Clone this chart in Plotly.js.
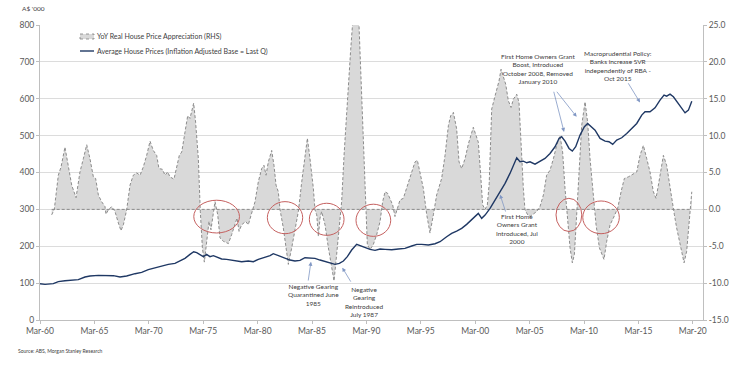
<!DOCTYPE html>
<html>
<head>
<meta charset="utf-8">
<script src="https://cdn.plot.ly/plotly-3.0.1.min.js"></script>
<style>html,body{margin:0;padding:0;background:#fff;}#chart{width:738px;height:367px;}</style>
</head>
<body>
<div id="chart"></div>
<script>
// Average house prices (A$ '000, inflation adjusted) - decimal year / value
const priceDates = [1960.17,1960.63,1961.39,1961.85,1962.46,1963.08,1963.69,1964.30,1964.76,1965.53,
  1966.29,1966.91,1967.52,1968.13,1968.90,1969.51,1970.12,1970.74,1971.35,1971.96,
  1972.57,1973.03,1973.49,1973.95,1974.29,1974.57,1974.87,1975.18,1975.48,1975.79,
  1976.10,1976.40,1976.86,1977.32,1977.78,1978.24,1978.70,1979.31,1979.77,1980.23,
  1980.85,1981.31,1981.61,1981.92,1982.22,1982.68,1983.14,1983.60,1984.06,1984.52,
  1984.98,1985.44,1985.90,1986.36,1986.82,1987.28,1987.68,1988.05,1988.41,1988.81,
  1989.27,1989.58,1990.04,1990.50,1990.96,1991.42,1991.88,1992.49,1993.10,1993.71,
  1994.33,1994.79,1995.25,1995.86,1996.47,1996.93,1997.54,1998.00,1998.46,1998.92,
  1999.38,1999.84,2000.45,2000.76,2001.07,2001.53,2001.99,2002.45,2002.91,2003.36,
  2003.67,2003.98,2004.28,2004.59,2004.90,2005.20,2005.66,2006.12,2006.58,2007.04,
  2007.50,2007.87,2008.11,2008.42,2008.79,2009.09,2009.40,2009.80,2010.20,2010.50,
  2010.81,2011.18,2011.64,2012.10,2012.46,2012.80,2013.17,2013.63,2014.09,2014.55,
  2015.01,2015.47,2015.77,2016.23,2016.69,2017.15,2017.52,2017.76,2018.07,2018.38,
  2018.74,2019.14,2019.45,2019.76,2020.07];
const priceValues = [98.5,96.7,98.5,104,106.6,107.5,109.4,116.6,119.3,121.1,
  120.2,120.2,116.6,119.3,125.6,129.2,136.5,141.9,147.3,150.9,
  153.6,160.8,167.2,178.0,185.2,182.5,176.2,171.7,178.0,171.7,
  174.4,171.7,165.4,164.5,162.6,160.8,158.1,159.9,158.1,164.5,
  169.0,174.4,179.8,176.2,172.6,169.0,162.6,159.9,161.7,169.0,
  167.2,167.2,162.6,158.1,153.6,150.9,153.6,159.9,171.7,189.7,
  205.1,201.5,196.1,191.6,188.9,192.5,191.6,190.7,192.5,194.3,
  200.6,205.1,205.1,203.3,206.9,212.3,225.9,234.9,241.2,248.4,
  259.3,271.0,289.1,275.6,284.6,302.7,325.2,347.8,370.4,397.5,
  420.1,440.0,429.1,430.9,426.4,429.1,422.8,430.9,438.2,451.7,
  469.8,492.4,496.9,485.1,465.3,458.0,469.8,501.4,524.0,533.0,
  524.0,514.9,492.4,485.1,483.3,476.1,487.9,494.2,506.0,519.5,
  533.0,555.6,564.6,564.6,575.5,596.2,609.8,607.1,612.5,605.3,
  591.7,573.7,561.9,569.1,593.5];

// YoY real house price appreciation (%, RHS)
const apprDates = [1961.24,1961.48,1961.85,1962.10,1962.46,1962.77,1963.08,1963.48,1963.84,1964.15,
  1964.46,1964.76,1965.07,1965.28,1965.53,1965.83,1966.14,1966.23,1966.45,1966.75,
  1967.06,1967.37,1967.61,1967.83,1968.13,1968.44,1968.74,1969.05,1969.36,1969.66,
  1969.97,1970.28,1970.58,1970.89,1971.10,1971.41,1971.66,1971.90,1972.11,1972.48,
  1972.73,1972.97,1973.19,1973.49,1973.74,1973.95,1974.11,1974.29,1974.47,1974.72,
  1974.90,1975.09,1975.27,1975.48,1975.70,1975.88,1976.10,1976.25,1976.50,1976.71,
  1977.02,1977.48,1977.78,1978.09,1978.27,1978.46,1978.70,1979.07,1979.31,1979.62,
  1979.93,1980.23,1980.54,1980.75,1980.94,1981.15,1981.46,1981.67,1981.86,1982.07,
  1982.23,1982.53,1982.78,1982.99,1983.30,1983.60,1983.91,1984.22,1984.52,1984.74,
  1984.98,1985.29,1985.44,1985.60,1985.75,1985.90,1986.05,1986.36,1986.67,1986.97,
  1987.19,1987.43,1987.68,1987.89,1988.11,1988.41,1988.72,1989.28,1990.13,1990.25,
  1990.50,1990.80,1991.11,1991.42,1991.66,1991.88,1992.12,1992.34,1992.58,1992.79,
  1993.01,1993.25,1993.56,1993.81,1994.02,1994.33,1994.63,1994.85,1995.09,1995.40,
  1995.71,1996.01,1996.32,1996.62,1997.08,1997.39,1997.70,1997.91,1998.16,1998.46,
  1998.68,1998.92,1999.23,1999.54,1999.99,2000.24,2000.45,2000.67,2000.85,2001.07,
  2001.28,2001.45,2001.68,2001.99,2002.35,2002.54,2002.75,2002.97,2003.21,2003.46,
  2003.67,2003.98,2004.19,2004.38,2004.59,2004.74,2004.99,2005.20,2005.51,2005.82,
  2006.12,2006.43,2006.73,2007.04,2007.35,2007.65,2007.96,2008.20,2008.42,2008.67,
  2008.88,2009.09,2009.28,2009.49,2009.71,2009.95,2010.26,2010.50,2010.72,2011.02,
  2011.27,2011.58,2011.79,2012.00,2012.25,2012.56,2012.86,2013.26,2013.57,2013.87,
  2014.24,2014.55,2015.01,2015.31,2015.62,2015.93,2016.23,2016.54,2016.78,2017.00,
  2017.21,2017.46,2017.76,2017.98,2018.22,2018.47,2018.68,2018.93,2019.14,2019.36,
  2019.60,2019.82,2020.00,2020.07];
const apprValues = [-0.74,0,4.63,5.75,8.44,6.0,3.29,1.59,5.08,6.87,
  8.76,6.87,4.41,4.19,1.95,1.05,0.38,-0.65,-0.07,0.38,
  -0.29,-1.86,-2.89,-2.09,-0.07,3.29,4.63,4.95,4.63,5.75,
  7.32,9.25,7.99,7.32,5.53,5.44,4.63,5.08,4.41,4.10,
  5.75,7.32,7.77,10.46,12.70,12.34,13.15,14.40,11.80,6.87,
  -0.29,-5.22,-7.15,-4.33,-1.64,-2.76,-0.74,1.05,-0.74,-3.88,
  -4.33,-4.64,-3.43,-1.86,-1.19,-2.98,-2.09,-1.64,-2.09,-0.52,
  1.05,3.74,5.53,5.98,4.63,6.43,7.99,5.98,3.29,2.39,
  -0.07,-2.53,-5.22,-7.46,-5.22,-2.53,-0.29,3.74,7.32,9.65,
  6.87,2.84,-0.07,-0.74,-3.65,-1.19,-0.29,-2.09,-5.22,-7.91,
  -9.70,-6.12,-2.53,1.05,7.32,14.94,21.66,33.0,0,-4.77,
  -5.45,-4.77,-3.43,-1.64,1.05,2.39,2.17,1.50,0.60,-0.97,
  0.16,1.27,1.50,2.62,3.74,5.08,6.43,6.65,5.08,2.84,
  -0.74,-3.21,-0.74,1.95,4.19,7.32,11.36,12.70,13.15,10.91,
  6.43,5.53,6.87,8.89,11.13,10.01,9.11,4.63,0.60,0,
  0.60,3.5,13.6,15.4,17.4,19.0,17.9,16.96,14.72,13.82,
  14.94,15.61,14.49,8.22,2.84,-0.07,-0.74,-0.97,-0.65,-0.29,
  0.38,1.95,4.63,5.31,6.87,8.67,10.0,7.77,2.84,-1.64,
  -5.22,-7.24,-6.12,-0.74,5.98,11.36,14.58,11.80,6.87,1.50,
  -2.09,-5.22,-5.89,-6.79,-4.33,-2.09,-1.19,0.16,2.39,4.19,
  4.41,4.72,5.08,7.32,8.67,6.87,5.08,2.39,1.50,3.29,
  5.31,7.32,5.98,3.74,1.72,-0.74,-2.53,-4.33,-6.12,-7.24,
  -5.67,-2.09,0.16,2.39];

// Axis tick labels
const xTickYears = [1960,1965,1970,1975,1980,1985,1990,1995,2000,2005,2010,2015,2020];
const xTickLabels = ['Mar-60','Mar-65','Mar-70','Mar-75','Mar-80','Mar-85','Mar-90','Mar-95','Mar-00','Mar-05','Mar-10','Mar-15','Mar-20'];
const rhsTickVals = [25,20,15,10,5,0,-5,-10,-15];
const rhsTickLabels = ['25.0','20.0','15.0','10.0','5.0','0.0','-5.0','-10.0','-15.0'];

const seriesNames = ['YoY Real House Price Appreciation (RHS)', 'Average House Prices (Inflation Adjusted Base = Last Q)'];

const MARCH = 2/12;
const FONT = 'Lato, "Open Sans", sans-serif';
const txt = '#404040';
const arrowCol = '#8097c4';

// Area on the primary axis (placed on the right), price line on the overlaying axis (left) so it draws on top
const traces = [
  {
    x: apprDates, y: apprValues, yaxis: 'y', type: 'scatter', mode: 'lines',
    name: seriesNames[0], fill: 'tozeroy', fillcolor: '#d9d9d9',
    line: {color: '#808080', width: 0.9, dash: '3px,2px'}, showlegend: false, hoverinfo: 'skip'
  },
  {
    x: [apprDates[0], apprDates[apprDates.length - 1]], y: [0, 0], yaxis: 'y', type: 'scatter', mode: 'lines',
    line: {color: '#808080', width: 0.9, dash: '3px,2px'}, showlegend: false, hoverinfo: 'skip'
  },
  {
    x: priceDates, y: priceValues, yaxis: 'y2', type: 'scatter', mode: 'lines',
    name: seriesNames[1], line: {color: '#1f3864', width: 1.4}, showlegend: false
  }
];

// pixel helpers for the plot area (l=40, t=25, w=663, h=295)
const px = v => (v - 40) / 663;
const py = v => (320 - v) / 295;

const notes = [
  {x: 1985.29, y: 68, text: 'Negative Gearing<br>Quarantined June<br>1985'},
  {x: 1989.95, y: 49, text: 'Negative<br>Gearing<br>Reintroduced<br>July 1987'},
  {x: 2004.04, y: 248, text: 'First Home<br>Owners Grant<br>Introduced, Jul<br>2000'},
  {x: 2005.97, y: 681, text: 'First Home Owners Grant<br>Boost, Introduced<br>October 2008, Removed<br>January 2010'},
  {x: 2013.32, y: 690, text: 'Macroprudential Policy:<br>Banks increase SVR<br>independently of RBA -<br>Oct 2015'}
];
const arrows = [
  {ax: 1984.80, ay: 103, x: 1985.07, y: 158},
  {ax: 1988.81, ay: 100, x: 1987.95, y: 142},
  {ax: 2003.00, ay: 290, x: 2002.45, y: 340},
  {ax: 2007.35, ay: 623, x: 2008.33, y: 510},
  {ax: 2007.56, ay: 623, x: 2009.49, y: 551},
  {ax: 2014.15, ay: 646, x: 2015.31, y: 590}
];

const annotations = [];
notes.forEach(n => annotations.push({
  x: n.x, y: n.y, xref: 'x', yref: 'y2', text: n.text, showarrow: false,
  align: 'center', xanchor: 'center', yanchor: 'middle', font: {family: FONT, size: 6.5, color: txt}
}));
arrows.forEach(a => annotations.push({
  x: a.x, y: a.y, ax: a.ax, ay: a.ay, xref: 'x', yref: 'y2', axref: 'x', ayref: 'y2',
  text: '', showarrow: true, arrowhead: 2, arrowsize: 1, arrowwidth: 0.8, arrowcolor: arrowCol
}));
// legend texts
annotations.push({x: px(95), y: py(36.5), xref: 'paper', yref: 'paper', xanchor: 'left', yanchor: 'middle',
  text: seriesNames[0], showarrow: false, font: {family: FONT, size: 7, color: txt}});
annotations.push({x: px(95), y: py(51), xref: 'paper', yref: 'paper', xanchor: 'left', yanchor: 'middle',
  text: seriesNames[1], showarrow: false, font: {family: FONT, size: 7, color: txt}});
// unit label and source
annotations.push({x: px(20), y: py(8), xref: 'paper', yref: 'paper', xanchor: 'left', yanchor: 'middle',
  text: "A$ '000", showarrow: false, font: {family: FONT, size: 6.5, color: txt}});
annotations.push({x: px(16), y: py(351), xref: 'paper', yref: 'paper', xanchor: 'left', yanchor: 'middle',
  text: 'Source: ABS, Morgan Stanley Research', showarrow: false, font: {family: FONT, size: 5, color: txt}});

const ellipse = (x0, x1, y0, y1) => ({type: 'circle', xref: 'x', yref: 'y', x0, x1, y0, y1,
  line: {color: '#c5605f', width: 1}, fillcolor: 'rgba(0,0,0,0)'});

const shapes = [
  ellipse(1974.3, 1978.5, -3.2, 1.24),
  ellipse(1981.06, 1984.31, -3.3, 1.05),
  ellipse(1984.92, 1988.11, -3.52, 0.83),
  ellipse(1989.21, 1992.40, -3.66, 0.7),
  ellipse(2007.59, 2009.96, -3.0, 1.5),
  ellipse(2010.05, 2013.41, -3.3, 1.14),
  // legend icons
  {type: 'rect', xref: 'paper', yref: 'paper', x0: px(80), x1: px(94), y0: py(39), y1: py(34),
   fillcolor: '#d9d9d9', line: {color: '#808080', width: 0.8, dash: 'dot'}},
  {type: 'line', xref: 'paper', yref: 'paper', x0: px(80), x1: px(94), y0: py(51), y1: py(51),
   line: {color: '#1f3864', width: 1.4}}
];

const axisFont = {family: FONT, size: 8.5, color: '#595959'};
const layout = {
  width: 738, height: 367,
  margin: {l: 40, r: 35, t: 25, b: 47, pad: 0},
  paper_bgcolor: '#ffffff', plot_bgcolor: '#ffffff',
  showlegend: false,
  font: {family: FONT, color: txt},
  xaxis: {
    range: [1960 + MARCH, 2021.1], tickmode: 'array',
    tickvals: xTickYears.map(y => y + MARCH), ticktext: xTickLabels,
    ticks: 'outside', ticklen: 3, tickcolor: '#bfbfbf', showgrid: false, zeroline: false,
    showline: true, linecolor: '#bfbfbf', linewidth: 1, tickfont: axisFont
  },
  yaxis: {
    side: 'right', range: [-15, 25], tickmode: 'array',
    tickvals: rhsTickVals, ticktext: rhsTickLabels,
    ticks: 'outside', ticklen: 3, tickcolor: '#bfbfbf',
    showgrid: true, gridcolor: '#dcdcdc', gridwidth: 1, zeroline: false,
    showline: true, linecolor: '#bfbfbf', linewidth: 1, tickfont: axisFont
  },
  yaxis2: {
    overlaying: 'y', side: 'left', range: [0, 800], dtick: 100, tick0: 0,
    ticks: 'outside', ticklen: 3, tickcolor: '#bfbfbf', showgrid: false, zeroline: false,
    showline: true, linecolor: '#bfbfbf', linewidth: 1, tickfont: axisFont
  },
  annotations: annotations,
  shapes: shapes
};

Plotly.newPlot('chart', traces, layout, {displayModeBar: false, staticPlot: true});
</script>
</body>
</html>
